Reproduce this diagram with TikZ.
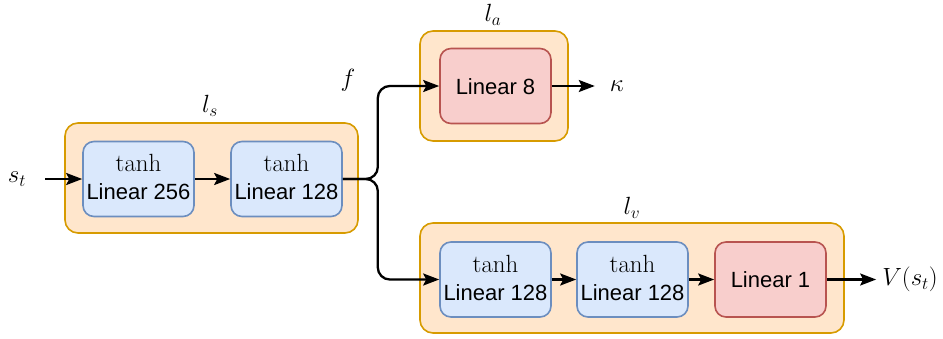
\documentclass[tikz,border=0pt]{standalone}
\usepackage[no-math]{fontspec}
\setsansfont{Liberation Sans}
\usetikzlibrary{arrows.meta}
\definecolor{grpfill}{HTML}{FFE6CC}
\definecolor{grpline}{HTML}{D79B00}
\definecolor{bluefill}{HTML}{DAE8FC}
\definecolor{blueline}{HTML}{6C8EBF}
\definecolor{redfill}{HTML}{F8CECC}
\definecolor{redline}{HTML}{B85450}
\tikzset{
  grp/.style={draw=grpline, fill=grpfill, line width=1.6, rounded corners=13,
    minimum height=110, inner sep=0},
  blk/.style={draw=blueline, fill=bluefill, line width=1.6, rounded corners=11,
    minimum width=111, minimum height=75, inner sep=0},
  redblk/.style={blk, draw=redline, fill=redfill},
  sans/.style={font=\sffamily\fontsize{22}{25}\selectfont, inner sep=0},
  mth/.style={font=\fontsize{25}{29}\selectfont, inner sep=0},
  arr/.style={-{Stealth[length=16,width=12,inset=3]}, line width=2.3},
}
\begin{document}
\begin{tikzpicture}[x=1pt, y=-1pt]
  \useasboundingbox (0,0) rectangle (943,338);

  % group frames
  \node[grp, minimum width=293] (ls) at (211.5,178) {};
  \node[grp, minimum width=148] (la) at (494,86) {};
  \node[grp, minimum width=424] (lv) at (632,278) {};

  % shared trunk
  \node[blk] (b1) at (138.5,179) {};
  \node[mth] (b1t) at (138.5,163) {$\tanh$};
  \node[sans] (b1l) at (138.5,192) {Linear 256};
  \node[blk] (b2) at (286.5,179) {};
  \node[mth] (b2t) at (286.5,163) {$\tanh$};
  \node[sans] (b2l) at (286.5,192) {Linear 128};

  % action head
  \node[redblk] (r8) at (495.5,86) {};
  \node[sans] (r8l) at (495.5,87) {Linear 8};

  % value head
  \node[blk] (b3) at (495.5,279.5) {};
  \node[mth] (b3t) at (495.5,264) {$\tanh$};
  \node[sans] (b3l) at (495.5,293) {Linear 128};
  \node[blk] (b4) at (632.5,279.5) {};
  \node[mth] (b4t) at (632.5,264) {$\tanh$};
  \node[sans] (b4l) at (632.5,293) {Linear 128};
  \node[redblk] (r1) at (770.5,279.5) {};
  \node[sans] (r1l) at (770.5,280) {Linear 1};

  % labels
  \node[mth] (st) at (17,179) {$s_t$};
  \node[mth] (lsl) at (210,106) {$l_s$};
  \node[mth] (fl) at (348,80) {$f$};
  \node[mth] (lal) at (493,15) {$l_a$};
  \node[mth] (kap) at (617,86) {$\kappa$};
  \node[mth] (lvl) at (632,208) {$l_v$};
  \node[mth] (vs) at (910,279.5) {$V(s_t)$};

  % connectors
  \draw[arr, shorten <=19] (st.east) -- (b1.west);
  \draw[arr] (b1.east) -- (b2.west);
  \draw[arr, rounded corners=12] (b2.east) -- ++(35,0) |- (r8.west);
  \draw[arr, rounded corners=12] (b2.east) -- ++(35,0) |- (b3.west);
  \draw[arr, shorten >=15] (r8.east) -- (kap.west);
  \draw[arr] (b3.east) -- (b4.west);
  \draw[arr] (b4.east) -- (r1.west);
  \draw[arr, shorten >=6] (r1.east) -- (vs.west);
\end{tikzpicture}
\end{document}
